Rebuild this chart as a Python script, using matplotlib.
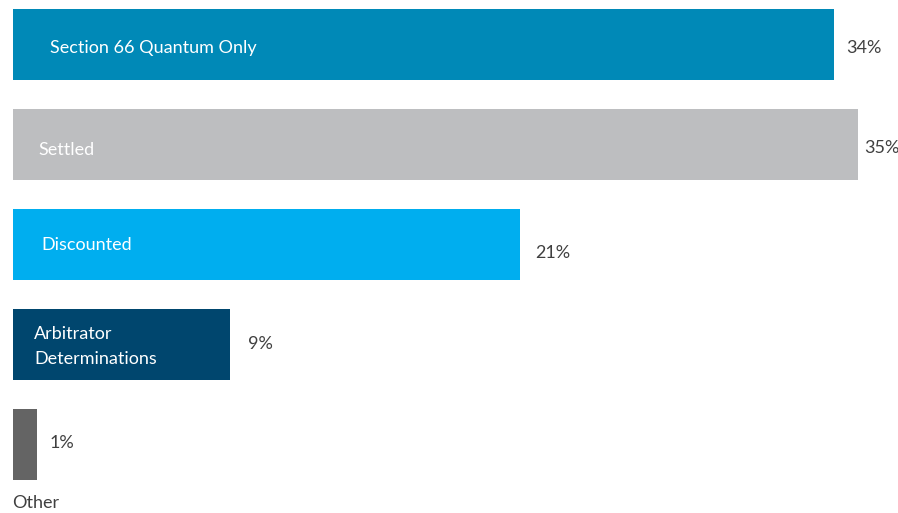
import matplotlib
matplotlib.use("Agg")
import matplotlib.pyplot as plt

categories = ["Section 66 Quantum Only", "Settled", "Discounted",
              "Arbitrator\nDeterminations", "Other"]
values = [34, 35, 21, 9, 1]
value_labels = ["34%", "35%", "21%", "9%", "1%"]

colors = ["#0089B7", "#BDBEC0", "#00AEEF", "#00466E", "#646464"]
# label placement styling (in pixels)
inner_dx = [37, 25, 28, 21, -1]
inner_dy = [3, 5, 1, 2, 59]
val_dx = [12, 6, 15, 18, 12]
val_dy = [3, 3, 9, -1, -2]

plt.rcParams['font.family'] = ['Lato', 'DejaVu Sans']

W, H = 898, 513
fig = plt.figure(figsize=(W / 100, H / 100), dpi=100)
ax = fig.add_axes([0, 0, 1, 1])
ppu = 24.15
x0 = 13
ax.set_xlim(-x0 / ppu, (W - x0) / ppu)
ax.set_ylim(4 + (H - 444.5) / 100, -0.445)
ax.axis("off")

ys = list(range(len(categories)))
ax.barh(ys, values, height=0.71, color=colors, left=0)

fs = 13
for i, (cat, v, lab) in enumerate(zip(categories, values, value_labels)):
    if i < 4:
        ax.text(inner_dx[i] / ppu, i + inner_dy[i] / 100, cat, color="white",
                fontsize=fs, va="center", ha="left", linespacing=1.65)
    else:
        ax.text(inner_dx[i] / ppu, i + inner_dy[i] / 100, cat, color="#404040",
                fontsize=fs, va="center", ha="left")
    ax.text(v + val_dx[i] / ppu, i + val_dy[i] / 100, lab, color="#404040",
            fontsize=fs, va="center", ha="left")

fig.savefig("out.png", dpi=100, facecolor="white")
